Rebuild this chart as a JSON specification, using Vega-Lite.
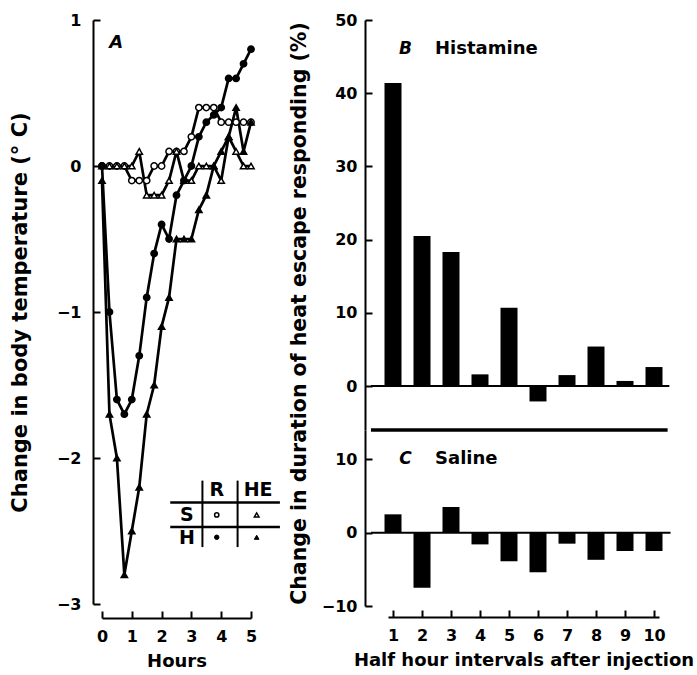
{
  "$schema": "https://vega.github.io/schema/vega-lite/v6.json",
  "autosize": {"type": "none"},
  "padding": {"left": 102, "top": 20, "right": 595, "bottom": 655},
  "config": {
    "view": {"stroke": null},
    "font": "DejaVu Sans",
    "axis": {
      "grid": false,
      "domainColor": "black", "domainWidth": 2,
      "tickColor": "black", "tickWidth": 2, "tickSize": -7,
      "labelColor": "black", "titleColor": "black",
      "labelFont": "DejaVu Sans", "titleFont": "DejaVu Sans",
      "labelFontSize": 16, "titleFontSize": 18,
      "labelFontWeight": "bold", "titleFontWeight": "bold",
      "labelOverlap": false, "labelFlush": false, "tickCount": 30
    }
  },
  "hconcat": [
    {
      "width": 149,
      "height": 584,
      "data": {"values": [
        {"series": "S-R", "h": 0, "t": 0}, {"series": "S-R", "h": 0.25, "t": 0}, {"series": "S-R", "h": 0.5, "t": 0}, {"series": "S-R", "h": 0.75, "t": 0},
        {"series": "S-R", "h": 1, "t": -0.1}, {"series": "S-R", "h": 1.25, "t": -0.1}, {"series": "S-R", "h": 1.5, "t": -0.1}, {"series": "S-R", "h": 1.75, "t": 0},
        {"series": "S-R", "h": 2, "t": 0}, {"series": "S-R", "h": 2.25, "t": 0.1}, {"series": "S-R", "h": 2.5, "t": 0.1}, {"series": "S-R", "h": 2.75, "t": 0.1},
        {"series": "S-R", "h": 3, "t": 0.2}, {"series": "S-R", "h": 3.25, "t": 0.4}, {"series": "S-R", "h": 3.5, "t": 0.4}, {"series": "S-R", "h": 3.75, "t": 0.4},
        {"series": "S-R", "h": 4, "t": 0.3}, {"series": "S-R", "h": 4.25, "t": 0.3}, {"series": "S-R", "h": 4.5, "t": 0.3}, {"series": "S-R", "h": 4.75, "t": 0.3},
        {"series": "S-R", "h": 5, "t": 0.3},
        {"series": "S-HE", "h": 0, "t": 0}, {"series": "S-HE", "h": 0.25, "t": 0}, {"series": "S-HE", "h": 0.5, "t": 0}, {"series": "S-HE", "h": 0.75, "t": 0},
        {"series": "S-HE", "h": 1, "t": 0}, {"series": "S-HE", "h": 1.25, "t": 0.1}, {"series": "S-HE", "h": 1.5, "t": -0.2}, {"series": "S-HE", "h": 1.75, "t": -0.2},
        {"series": "S-HE", "h": 2, "t": -0.2}, {"series": "S-HE", "h": 2.25, "t": -0.1}, {"series": "S-HE", "h": 2.5, "t": 0.1}, {"series": "S-HE", "h": 2.75, "t": -0.1},
        {"series": "S-HE", "h": 3, "t": -0.1}, {"series": "S-HE", "h": 3.25, "t": 0}, {"series": "S-HE", "h": 3.5, "t": 0}, {"series": "S-HE", "h": 3.75, "t": 0},
        {"series": "S-HE", "h": 4, "t": -0.1}, {"series": "S-HE", "h": 4.25, "t": 0.2}, {"series": "S-HE", "h": 4.5, "t": 0.1}, {"series": "S-HE", "h": 4.75, "t": 0},
        {"series": "S-HE", "h": 5, "t": 0},
        {"series": "H-R", "h": 0, "t": 0}, {"series": "H-R", "h": 0.25, "t": -1.0}, {"series": "H-R", "h": 0.5, "t": -1.6}, {"series": "H-R", "h": 0.75, "t": -1.7},
        {"series": "H-R", "h": 1, "t": -1.6}, {"series": "H-R", "h": 1.25, "t": -1.3}, {"series": "H-R", "h": 1.5, "t": -0.9}, {"series": "H-R", "h": 1.75, "t": -0.6},
        {"series": "H-R", "h": 2, "t": -0.4}, {"series": "H-R", "h": 2.25, "t": -0.5}, {"series": "H-R", "h": 2.5, "t": -0.2}, {"series": "H-R", "h": 2.75, "t": -0.1},
        {"series": "H-R", "h": 3, "t": 0}, {"series": "H-R", "h": 3.25, "t": 0.2}, {"series": "H-R", "h": 3.5, "t": 0.3}, {"series": "H-R", "h": 3.75, "t": 0.35},
        {"series": "H-R", "h": 4, "t": 0.4}, {"series": "H-R", "h": 4.25, "t": 0.6}, {"series": "H-R", "h": 4.5, "t": 0.6}, {"series": "H-R", "h": 4.75, "t": 0.7},
        {"series": "H-R", "h": 5, "t": 0.8},
        {"series": "H-HE", "h": 0, "t": -0.1}, {"series": "H-HE", "h": 0.25, "t": -1.7}, {"series": "H-HE", "h": 0.5, "t": -2.0}, {"series": "H-HE", "h": 0.75, "t": -2.8},
        {"series": "H-HE", "h": 1, "t": -2.5}, {"series": "H-HE", "h": 1.25, "t": -2.2}, {"series": "H-HE", "h": 1.5, "t": -1.7}, {"series": "H-HE", "h": 1.75, "t": -1.5},
        {"series": "H-HE", "h": 2, "t": -1.1}, {"series": "H-HE", "h": 2.25, "t": -0.9}, {"series": "H-HE", "h": 2.5, "t": -0.5}, {"series": "H-HE", "h": 2.75, "t": -0.5},
        {"series": "H-HE", "h": 3, "t": -0.5}, {"series": "H-HE", "h": 3.25, "t": -0.3}, {"series": "H-HE", "h": 3.5, "t": -0.2}, {"series": "H-HE", "h": 3.75, "t": 0},
        {"series": "H-HE", "h": 4, "t": 0.1}, {"series": "H-HE", "h": 4.25, "t": 0.2}, {"series": "H-HE", "h": 4.5, "t": 0.4}, {"series": "H-HE", "h": 4.75, "t": 0.1},
        {"series": "H-HE", "h": 5, "t": 0.3}
      ]},
      "layer": [
        {
          "mark": {"type": "line", "color": "black", "strokeWidth": 2.7},
          "encoding": {
            "x": {"field": "h", "type": "quantitative", "scale": {"domain": [0, 5], "nice": false, "zero": false},
              "axis": {"title": "Hours", "values": [0, 1, 2, 3, 4, 5], "format": "d", "offset": 14, "labelPadding": 17, "titlePadding": 8,
                "labelOverlap": false, "labelFlush": false, "tickCount": 30}},
            "y": {"field": "t", "type": "quantitative", "scale": {"domain": [-3, 1], "nice": false, "zero": false},
              "axis": {"title": "Change in body temperature (° C)", "values": [-3, -2.5, -2, -1.5, -1, -0.5, 0, 0.5, 1], "format": "d",
                "labelExpr": "datum.value % 1 === 0 ? datum.label : ''", "offset": 9, "labelPadding": 19, "titleX": -63, "titleFontSize": 21,
                "labelOverlap": false, "tickCount": 30}},
            "detail": {"field": "series"}
          }
        },
        {
          "mark": {"type": "point", "filled": true, "stroke": "black", "strokeWidth": 1.5, "size": 40, "opacity": 1},
          "encoding": {
            "x": {"field": "h", "type": "quantitative"},
            "y": {"field": "t", "type": "quantitative"},
            "shape": {"field": "series", "type": "nominal", "legend": null,
              "scale": {"domain": ["S-R", "S-HE", "H-R", "H-HE"], "range": ["circle", "triangle-up", "circle", "triangle-up"]}},
            "fill": {"field": "series", "type": "nominal", "legend": null,
              "scale": {"domain": ["S-R", "S-HE", "H-R", "H-HE"], "range": ["white", "white", "black", "black"]}}
          }
        },
        {
          "data": {"values": [{}]},
          "mark": {"type": "text", "text": "A", "font": "DejaVu Sans", "fontSize": 18, "fontWeight": "bold", "fontStyle": "italic", "color": "black"},
          "encoding": {"x": {"datum": 0.48}, "y": {"datum": 0.84}}
        },
        {
          "data": {"values": [{}]},
          "mark": {"type": "rule", "color": "black", "strokeWidth": 2.5},
          "encoding": {"x": {"datum": 2.29}, "x2": {"datum": 5.97}, "y": {"datum": -2.305}}
        },
        {
          "data": {"values": [{}]},
          "mark": {"type": "rule", "color": "black", "strokeWidth": 2.5},
          "encoding": {"x": {"datum": 2.29}, "x2": {"datum": 5.97}, "y": {"datum": -2.473}}
        },
        {
          "data": {"values": [{}]},
          "mark": {"type": "rule", "color": "black", "strokeWidth": 2},
          "encoding": {"x": {"datum": 3.37}, "y": {"datum": -2.155}, "y2": {"datum": -2.61}}
        },
        {
          "data": {"values": [{}]},
          "mark": {"type": "rule", "color": "black", "strokeWidth": 2},
          "encoding": {"x": {"datum": 4.55}, "y": {"datum": -2.155}, "y2": {"datum": -2.61}}
        },
        {
          "data": {"values": [{}]},
          "mark": {"type": "text", "text": "R", "font": "DejaVu Sans", "fontSize": 19, "fontWeight": "bold", "color": "black"},
          "encoding": {"x": {"datum": 3.85}, "y": {"datum": -2.219}}
        },
        {
          "data": {"values": [{}]},
          "mark": {"type": "text", "text": "HE", "font": "DejaVu Sans", "fontSize": 19, "fontWeight": "bold", "color": "black"},
          "encoding": {"x": {"datum": 5.24}, "y": {"datum": -2.219}}
        },
        {
          "data": {"values": [{}]},
          "mark": {"type": "text", "text": "S", "font": "DejaVu Sans", "fontSize": 19, "fontWeight": "bold", "color": "black"},
          "encoding": {"x": {"datum": 2.85}, "y": {"datum": -2.39}}
        },
        {
          "data": {"values": [{}]},
          "mark": {"type": "text", "text": "H", "font": "DejaVu Sans", "fontSize": 19, "fontWeight": "bold", "color": "black"},
          "encoding": {"x": {"datum": 2.85}, "y": {"datum": -2.548}}
        },
        {
          "data": {"values": [{}]},
          "mark": {"type": "point", "shape": "circle", "filled": true, "fill": "white", "stroke": "black", "strokeWidth": 1.5, "size": 18, "opacity": 1},
          "encoding": {"x": {"datum": 3.85}, "y": {"datum": -2.39}}
        },
        {
          "data": {"values": [{}]},
          "mark": {"type": "point", "shape": "triangle-up", "filled": true, "fill": "white", "stroke": "black", "strokeWidth": 1.5, "size": 22, "opacity": 1},
          "encoding": {"x": {"datum": 5.19}, "y": {"datum": -2.39}}
        },
        {
          "data": {"values": [{}]},
          "mark": {"type": "point", "shape": "circle", "filled": true, "fill": "black", "stroke": "black", "strokeWidth": 1, "size": 20, "opacity": 1},
          "encoding": {"x": {"datum": 3.85}, "y": {"datum": -2.543}}
        },
        {
          "data": {"values": [{}]},
          "mark": {"type": "point", "shape": "triangle-up", "filled": true, "fill": "black", "stroke": "black", "strokeWidth": 1, "size": 22, "opacity": 1},
          "encoding": {"x": {"datum": 5.19}, "y": {"datum": -2.543}}
        }
      ]
    },
    {
      "vconcat": [
        {
          "width": 271,
          "height": 410,
          "data": {"values": [
            {"i": 1, "v": 41.4}, {"i": 2, "v": 20.5}, {"i": 3, "v": 18.3}, {"i": 4, "v": 1.6}, {"i": 5, "v": 10.7},
            {"i": 6, "v": -2.1}, {"i": 7, "v": 1.5}, {"i": 8, "v": 5.4}, {"i": 9, "v": 0.7}, {"i": 10, "v": 2.6}
          ]},
          "layer": [
            {
              "mark": {"type": "bar", "color": "black", "width": 17},
              "encoding": {
                "x": {"field": "i", "type": "quantitative", "scale": {"domain": [1, 10], "nice": false, "zero": false}, "axis": null},
                "y": {"field": "v", "type": "quantitative", "scale": {"domain": [-6, 50], "nice": false, "zero": false},
                  "axis": {"title": "Change in duration of heat escape responding (%)", "values": [0, 10, 20, 30, 40, 50], "format": "d",
                    "offset": 23, "labelPadding": 15, "titleX": -56, "titleY": 293, "titleFontSize": 20.5, "labelOverlap": false, "tickCount": 30}},
                "y2": {"datum": 0}
              }
            },
            {
              "data": {"values": [{}]},
              "mark": {"type": "rule", "color": "black", "strokeWidth": 2},
              "encoding": {"x": {"datum": 0.24}, "x2": {"datum": 10.53}, "y": {"datum": 0}}
            },
            {
              "data": {"values": [{}]},
              "mark": {"type": "rule", "color": "black", "strokeWidth": 3.5},
              "encoding": {"x": {"datum": 0.24}, "x2": {"datum": 10.47}, "y": {"datum": -6}}
            },
            {
              "data": {"values": [{}]},
              "mark": {"type": "text", "text": "B", "font": "DejaVu Sans", "fontSize": 17, "fontWeight": "bold", "fontStyle": "italic", "color": "black"},
              "encoding": {"x": {"datum": 1.43}, "y": {"datum": 46.1}}
            },
            {
              "data": {"values": [{}]},
              "mark": {"type": "text", "text": "Histamine", "align": "left", "font": "DejaVu Sans", "fontSize": 18, "fontWeight": "bold", "color": "black"},
              "encoding": {"x": {"datum": 2.45}, "y": {"datum": 46.1}}
            }
          ]
        },
        {
          "width": 271,
          "height": 176,
          "data": {"values": [
            {"i": 1, "v": 2.5}, {"i": 2, "v": -7.5}, {"i": 3, "v": 3.5}, {"i": 4, "v": -1.6}, {"i": 5, "v": -3.9},
            {"i": 6, "v": -5.4}, {"i": 7, "v": -1.5}, {"i": 8, "v": -3.7}, {"i": 9, "v": -2.5}, {"i": 10, "v": -2.5}
          ]},
          "layer": [
            {
              "mark": {"type": "bar", "color": "black", "width": 17},
              "encoding": {
                "x": {"field": "i", "type": "quantitative", "scale": {"domain": [1, 10], "nice": false, "zero": false},
                  "axis": {"title": "Half hour intervals after injection", "values": [1, 2, 3, 4, 5, 6, 7, 8, 9, 10], "format": "d",
                    "offset": 11, "labelPadding": 17, "titlePadding": 8, "labelOverlap": false, "labelFlush": false, "tickCount": 30}},
                "y": {"field": "v", "type": "quantitative", "scale": {"domain": [-10, 14], "nice": false, "zero": false},
                  "axis": {"title": null, "values": [-10, 0, 10], "format": "d", "offset": 23, "labelPadding": 15, "labelOverlap": false, "tickCount": 30}},
                "y2": {"datum": 0}
              }
            },
            {
              "data": {"values": [{}]},
              "mark": {"type": "rule", "color": "black", "strokeWidth": 2},
              "encoding": {"x": {"datum": 0.24}, "x2": {"datum": 10.57}, "y": {"datum": 0}}
            },
            {
              "data": {"values": [{}]},
              "mark": {"type": "text", "text": "C", "font": "DejaVu Sans", "fontSize": 17, "fontWeight": "bold", "fontStyle": "italic", "color": "black"},
              "encoding": {"x": {"datum": 1.43}, "y": {"datum": 10.0}}
            },
            {
              "data": {"values": [{}]},
              "mark": {"type": "text", "text": "Saline", "align": "left", "font": "DejaVu Sans", "fontSize": 18, "fontWeight": "bold", "color": "black"},
              "encoding": {"x": {"datum": 2.45}, "y": {"datum": 10.0}}
            }
          ]
        }
      ],
      "spacing": 0,
      "bounds": "flush"
    }
  ],
  "spacing": 137,
  "bounds": "flush"
}
